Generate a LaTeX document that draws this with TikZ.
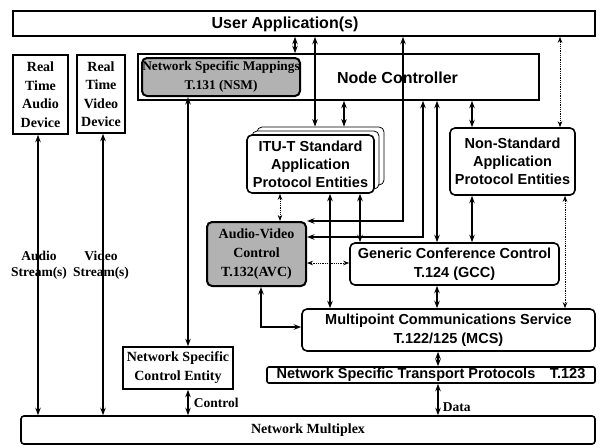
\documentclass[tikz,border=0pt]{standalone}
\usepackage{fontspec}
\setmainfont{Liberation Serif}
\setsansfont{Liberation Sans}
\usetikzlibrary{arrows.meta}

\begin{document}
\begin{tikzpicture}[x=1pt, y=-1pt, >={Stealth[length=7.5pt, width=5.5pt]},
	every node/.style={align=center, inner sep=0pt},
	sbox/.style={draw, line width=1.6pt, font=\sffamily\bfseries\fontsize{14.5}{18}\selectfont},
	rbox/.style={sbox, rounded corners=5pt},
	tbox/.style={draw, line width=1.6pt, font=\bfseries\fontsize{14}{18.5}\selectfont},
	grey/.style={draw, line width=2pt, rounded corners=5pt, fill=black!30, font=\bfseries\fontsize{14}{19}\selectfont},
	big/.style={font=\sffamily\bfseries\fontsize{16}{18}\selectfont},
	lbl/.style={font=\bfseries\fontsize{13.5}{16}\selectfont},
	link/.style={<->, line width=1.5pt},
	weak/.style={{Stealth[length=6pt, width=4.5pt]}-{Stealth[length=6pt, width=4.5pt]}, densely dotted, line width=0.8pt}]
	\useasboundingbox (0,0) rectangle (601,447);

	\node[sbox, minimum width=582pt, minimum height=25pt] (ua) at (304,23.5) {};
	\node[big] (uatext) at (285,24) {User Application(s)};
	\node[sbox, minimum width=401pt, minimum height=46pt] (nc) at (338.5,77) {};
	\node[big] (nctext) at (397.5,78) {Node Controller};
	\node[grey, minimum width=158pt, minimum height=38pt, font=\bfseries\fontsize{13.3}{19}\selectfont] (nsm) at (221,77) {Network Specific Mappings\\T.131 (NSM)};

	\node[tbox, minimum width=55pt, minimum height=79pt] (rta) at (40.5,94.5) {Real\\Time\\Audio\\Device};
	\node[tbox, minimum width=48pt, minimum height=78pt] (rtv) at (101,94) {Real\\Time\\Video\\Device};

	\node[rbox, fill=white, line width=0.8pt, minimum width=127pt, minimum height=58pt] (itub) at (320.5,156) {};
	\node[rbox, fill=white, line width=0.8pt, minimum width=127pt, minimum height=58pt] (itum) at (315.5,160) {};
	\node[rbox, fill=white, minimum width=127pt, minimum height=58pt] (itu) at (310.5,164) {ITU-T Standard\\Application\\Protocol Entities};
	\node[rbox, minimum width=125pt, minimum height=67pt] (nstd) at (512.5,161.5) {Non-Standard\\Application\\Protocol Entities};

	\node[grey, minimum width=99pt, minimum height=64pt] (avc) at (256.5,254) {Audio-Video\\Control\\T.132(AVC)};
	\node[rbox, minimum width=209pt, minimum height=42pt, font=\sffamily\bfseries\fontsize{14.5}{19}\selectfont] (gcc) at (454.5,264) {Generic Conference Control\\T.124 (GCC)};
	\node[rbox, minimum width=293pt, minimum height=42pt, font=\sffamily\bfseries\fontsize{14.5}{19}\selectfont] (mcs) at (448.5,330) {Multipoint Communications Service\\T.122/125 (MCS)};
	\node[sbox, rounded corners=2pt, minimum width=328pt, minimum height=16pt] (tp) at (431,375) {Network Specific Transport Protocols\quad T.123};

	\node[tbox, minimum width=110pt, minimum height=42pt, font=\bfseries\fontsize{14}{19}\selectfont] (nsce) at (178,368) {Network Specific\\Control Entity};
	\node[tbox, rounded corners=3pt, minimum width=574pt, minimum height=28pt] (nm) at (308,430) {Network Multiplex};

	\draw[link] (38,0 |- rta.south) -- (38,0 |- nm.north);
	\draw[link, line width=1.9pt] (103,0 |- rtv.south) -- (103,0 |- nm.north);
	\node[lbl] (astr) at (39,265) {Audio\\Stream(s)};
	\node[lbl] (vstr) at (101,265) {Video\\Stream(s)};

	\draw[link] (188,0 |- nsm.south) -- (188,0 |- nsce.north);
	\draw[link] (188,0 |- nsce.south) -- (188,0 |- nm.north) node[lbl, midway, right=5pt] (ctl) {Control};
	\draw[link] (438,0 |- tp.south) -- (438,0 |- nm.north) node[lbl, pos=0.75, right=4pt] (dat) {Data};
	\draw[link] (438,0 |- mcs.south) -- (438,0 |- tp.north);

	\draw[link] (295,0 |- ua.south) -- (295,0 |- nc.north);
	\draw[link] (315,0 |- ua.south) -- (315,0 |- itub.north);
	\draw[link] (344,0 |- nc.south) -- (344,0 |- itub.north);
	\draw[link] (403,0 |- ua.south) -- (403,221) -- (avc.east |- 0,221);
	\draw[link] (423,0 |- nc.south) -- (423,237) -- (avc.east |- 0,237);
	\draw[link] (437,0 |- nc.south) -- (437,0 |- gcc.north);
	\draw[link] (472,0 |- nc.south) -- (472,0 |- nstd.north);
	\draw[weak] (560,0 |- ua.south) -- (560,0 |- nstd.north);

	\draw[weak] (280,0 |- itu.south) -- (280,0 |- avc.north);
	\draw[link] (330,0 |- itu.south) -- (330,0 |- mcs.north);
	\draw[link] (360,0 |- itu.south) -- (360,0 |- gcc.north);
	\draw[weak] (avc.east |- 0,263) -- (gcc.west |- 0,263);
	\draw[link] (261,0 |- avc.south) -- (261,327) -- (mcs.west |- 0,327);
	\draw[link] (437,0 |- gcc.south) -- (437,0 |- mcs.north);
	\draw[link] (472,0 |- nstd.south) -- (472,0 |- gcc.north);
	\draw[weak] (565,0 |- nstd.south) -- (565,0 |- mcs.north);
\end{tikzpicture}
\end{document}
